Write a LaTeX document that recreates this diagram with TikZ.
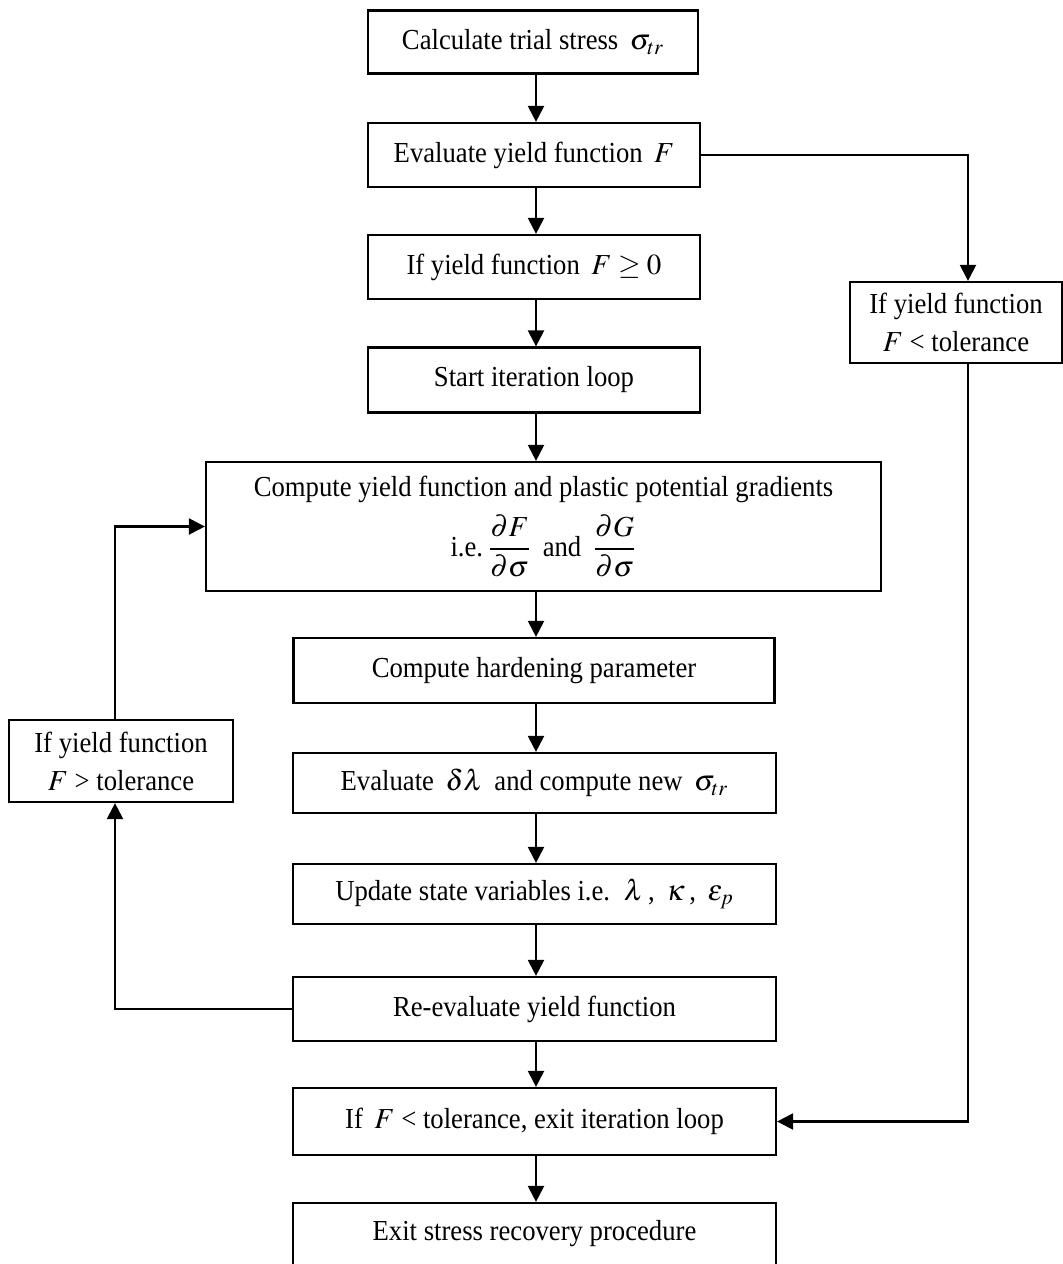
\documentclass[tikz,border=0pt]{standalone}
\usepackage{amsmath}
\usepackage{mathptmx}
\usepackage[no-math]{fontspec}
\setmainfont{Liberation Serif}[FakeStretch=0.92]
\usetikzlibrary{arrows.meta}
\begin{document}
\begin{tikzpicture}[x=0.5pt,y=-0.5pt,
  every node/.style={font=\fontsize{14.5}{19}\selectfont},
  box/.style={draw,line width=1.1pt,rectangle,align=center,inner sep=0pt},
  arr/.style={line width=1.1pt,-{Triangle[length=8pt,width=8pt]}}]
\clip (0,0) rectangle (1063,1264);
\fill[white] (0,0) rectangle (1063,1264);
\coordinate (ax) at (536,0);
\coordinate (rx) at (968,0);
\coordinate (lx) at (115,0);
\node[box,minimum width=165pt,minimum height=31.5pt] (b1) at (533,42) {Calculate trial stress \,$\sigma_{tr}$};
\node[box,minimum width=166pt,minimum height=32pt] (b2) at (534,155) {Evaluate yield function \,$F$};
\node[box,minimum width=166pt,minimum height=32pt] (b3) at (534,267) {If yield function \,$F\geq 0$};
\node[box,minimum width=166pt,minimum height=32.5pt] (b4) at (534,380) {Start iteration loop};
\node[box,minimum width=337.5pt,minimum height=64.5pt] (b5) at (543.5,526.5) {Compute yield function and plastic potential gradients\\[5pt] i.e.\,$\dfrac{\partial F}{\partial\sigma}$\, and \,$\dfrac{\partial G}{\partial\sigma}$};
\node[box,minimum width=240.5pt,minimum height=32.5pt] (b6) at (534,670.5) {Compute hardening parameter};
\node[box,minimum width=241.5pt,minimum height=30pt] (b7) at (534.5,783) {Evaluate \,$\delta\lambda$\, and compute new \,$\sigma_{tr}$};
\node[box,minimum width=241.5pt,minimum height=30pt] (b8) at (534.5,894) {Update state variables i.e. \,$\lambda$\,, \,$\kappa$\,, \,$\varepsilon_p$};
\node[box,minimum width=241.5pt,minimum height=32pt] (b9) at (534.5,1009) {Re-evaluate yield function};
\node[box,minimum width=241.5pt,minimum height=33.5pt] (b10) at (534.5,1121.5) {If \,$F$ < tolerance, exit iteration loop};
\node[box,minimum width=241.5pt,minimum height=31pt] (b11) at (534.5,1234) {Exit stress recovery procedure};
\node[box,minimum width=106pt,minimum height=40.5pt] (R) at (956,322.5) {If yield function\\ $F$ < tolerance};
\node[box,minimum width=112pt,minimum height=41pt] (L) at (121,761) {If yield function\\ $F$ > tolerance};
\draw[arr] (b1.south -| ax) -- (b2.north -| ax);
\draw[arr] (b2.south -| ax) -- (b3.north -| ax);
\draw[arr] (b3.south -| ax) -- (b4.north -| ax);
\draw[arr] (b4.south -| ax) -- (b5.north -| ax);
\draw[arr] (b5.south -| ax) -- (b6.north -| ax);
\draw[arr] (b6.south -| ax) -- (b7.north -| ax);
\draw[arr] (b7.south -| ax) -- (b8.north -| ax);
\draw[arr] (b8.south -| ax) -- (b9.north -| ax);
\draw[arr] (b9.south -| ax) -- (b10.north -| ax);
\draw[arr] (b10.south -| ax) -- (b11.north -| ax);
\draw[arr] (b2.east) -- (b2.east -| rx) -- (R.north -| rx);
\draw[arr] (R.south -| rx) -- (b10.east -| rx) -- (b10.east);
\draw[arr] (b9.west) -- (b9.west -| lx) -- (L.south -| lx);
\draw[arr] (L.north -| lx) -- (b5.west -| lx) -- (b5.west);
\end{tikzpicture}
\end{document}
